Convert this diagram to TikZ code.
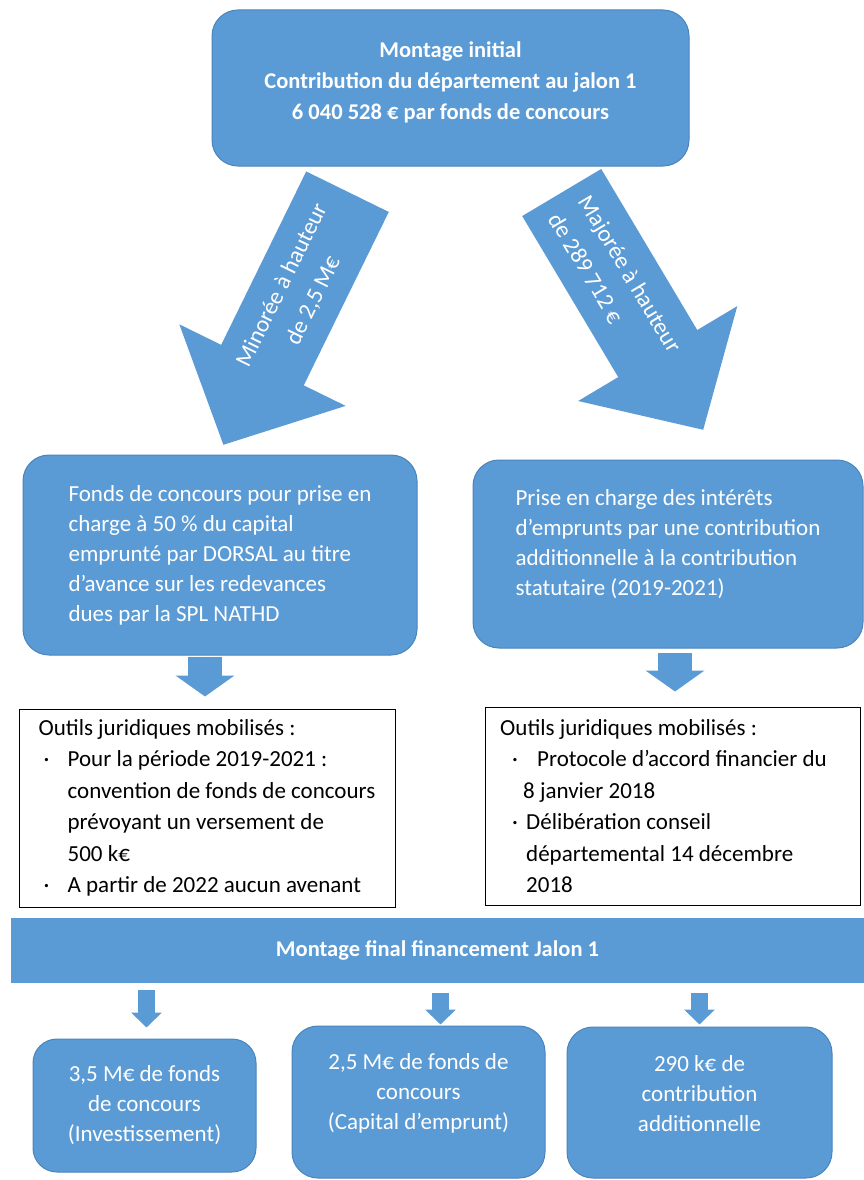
\documentclass[tikz,border=0pt]{standalone}
\usepackage{fontspec}
\setmainfont{Carlito}
\usepackage{xcolor}
\usetikzlibrary{arrows.meta}
\definecolor{bleu}{HTML}{5B9BD5}
\definecolor{bleufonce}{HTML}{4A84BC}
\newcommand{\puce}[2]{\hspace*{#1}\makebox[#2][l]{·}}
\newcommand{\retrait}[1]{\hspace*{#1}}
\newcommand{\remonte}[1]{\\[#1]\mbox{}}

\begin{document}
\begin{tikzpicture}[x=1pt,y=-1pt,
    boite/.style={draw=bleufonce,line width=1pt,fill=bleu,text=white,
      rounded corners=26pt,align=left,font=\fontsize{23}{30}\selectfont},
    cadre/.style={draw=black,line width=1pt,fill=white,align=left,
      font=\fontsize{23}{31.5}\selectfont},
    bande/.style={fill=bleu,text=white,font=\bfseries\fontsize{22.5}{26}\selectfont},
    grande/.style={bleu,line width=92pt,-{Triangle[length=89pt,width=180pt]}},
    moyenne/.style={bleu,line width=34pt,-{Triangle[length=21pt,width=58pt]}},
    petite/.style={bleu,line width=17pt,-{Triangle[length=15pt,width=30pt]}},
    textefleche/.style={text=white,font=\fontsize{23.5}{35}\selectfont}]
  \useasboundingbox (0,0) rectangle (864,1180);

  \node[boite,align=center,font=\bfseries\fontsize{22.5}{31}\selectfont,
    minimum width=477pt,minimum height=156pt] (initial) at (450.5,88)
    {Montage initial\\Contribution du département au jalon 1\\6 040 528 € par fonds de concours\remonte{-17pt}};

  \coordinate (queueG) at (347.5,191.7);
  \coordinate (pointeG) at (223.3,445);
  \coordinate (queueD) at (561.7,192.5);
  \coordinate (pointeD) at (703.3,430);
  \draw[grande] (queueG) -- (pointeG)
    node[textefleche,sloped,pos=0.4,align=center] {Minorée à hauteur\\de 2,5 M€};
  \draw[grande] (queueD) -- (pointeD)
    node[textefleche,sloped,pos=0.38,align=left] {Majorée à hauteur\\de 289 712 €};

  \node[boite,minimum width=394pt,minimum height=200pt] (fondsG) at (220,555)
    {Fonds de concours pour prise en\\charge à 50 \% du capital\\emprunté par DORSAL au titre\\d’avance sur les redevances\\dues par la SPL NATHD};
  \node[boite,minimum width=390pt,minimum height=188pt] (interets) at (668,554)
    {Prise en charge des intérêts\\d’emprunts par une contribution\\additionnelle à la contribution\\statutaire (2019-2021)\remonte{-8pt}};

  \node[cadre,minimum width=376pt,minimum height=198pt] (outilsG) at (207,808)
    {Outils juridiques mobilisés :\\
     \puce{5pt}{24pt}Pour la période 2019-2021 :\\
     \retrait{29pt}convention de fonds de concours\\
     \retrait{29pt}prévoyant un versement de\\
     \retrait{29pt}500 k€\\
     \puce{5pt}{24pt}A partir de 2022 aucun avenant};
  \node[cadre,minimum width=375pt,minimum height=198pt] (outilsD) at (672.5,806)
    {Outils juridiques mobilisés :\\
     \puce{12pt}{25pt}Protocole d’accord financier du\rule{18pt}{0pt}\\
     \retrait{23pt}8 janvier 2018\\
     \puce{12pt}{14pt}Délibération conseil\\
     \retrait{26pt}départemental 14 décembre\\
     \retrait{26pt}2018};

  \draw[moyenne,shorten <=1pt,shorten >=12pt] (205,0 |- fondsG.south) -- (205,0 |- outilsG.north);
  \draw[moyenne,shorten <=4pt,shorten >=15pt] (675,0 |- interets.south) -- (675,0 |- outilsD.north);

  \node[bande,minimum width=853pt,minimum height=65pt] (final) at (437.5,950.5)
    {Montage final financement Jalon 1\remonte{-10pt}};

  \node[boite,align=center,rounded corners=24pt,minimum width=223pt,minimum height=133pt] (invest) at (144.5,1105.5)
    {3,5 M€ de fonds\\de concours\\(Investissement)};
  \node[boite,align=center,minimum width=253pt,minimum height=152pt] (capital) at (418.5,1102)
    {2,5 M€ de fonds de\\concours\\(Capital d’emprunt)\remonte{-10pt}};
  \node[boite,align=center,minimum width=265pt,minimum height=151pt] (additionnelle) at (699.5,1102.5)
    {290 k€ de\\contribution\\additionnelle\remonte{-12pt}};

  \draw[petite,shorten <=7pt,shorten >=11pt] (146.5,0 |- final.south) -- (146.5,0 |- invest.north);
  \draw[petite,shorten <=10pt,shorten >=1pt] (440.5,0 |- final.south) -- (440.5,0 |- capital.north);
  \draw[petite,shorten <=10pt,shorten >=2pt] (699.5,0 |- final.south) -- (699.5,0 |- additionnelle.north);
\end{tikzpicture}
\end{document}
